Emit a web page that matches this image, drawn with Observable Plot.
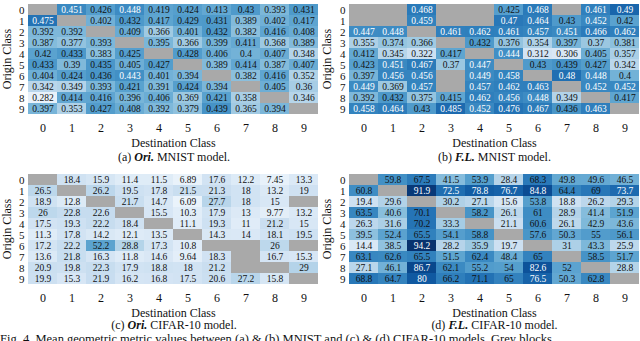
<!DOCTYPE html>
<html>
<head>
<meta charset="utf-8">
<script src="https://cdn.jsdelivr.net/npm/d3@7"></script>
<script src="https://cdn.jsdelivr.net/npm/@observablehq/plot@0.6"></script>
<style>
  html, body { margin: 0; padding: 0; background: #fff; }
  #root { position: relative; width: 640px; height: 341px; overflow: hidden; background: #fff; font-family: "Liberation Serif", "DejaVu Serif", serif; color: #111; }
  .panel { position: absolute; }
  .panel g[aria-label="y-axis tick label"] text { font-size: 11px; }
  .cap { position: absolute; width: 320px; text-align: center; font-size: 12px; line-height: 13px; }
  .fig { position: absolute; left: 0; top: 333px; white-space: nowrap; font-size: 12.5px; line-height: 13px; }
</style>
</head>
<body>
<div id="root"></div>
<script>
const classes = [0, 1, 2, 3, 4, 5, 6, 7, 8, 9];

// rows = origin class, columns = destination class; null = grey block
const oriMnist = [
  [null, 0.451, 0.426, 0.448, 0.419, 0.424, 0.413, 0.43, 0.393, 0.431],
  [0.475, null, 0.402, 0.432, 0.417, 0.429, 0.431, 0.389, 0.402, 0.417],
  [0.392, 0.392, null, 0.409, 0.366, 0.401, 0.432, 0.382, 0.416, 0.408],
  [0.387, 0.377, 0.393, null, 0.395, 0.366, 0.399, 0.411, 0.368, 0.389],
  [0.42, 0.433, 0.383, 0.425, null, 0.428, 0.406, 0.4, 0.407, 0.348],
  [0.433, 0.39, 0.435, 0.405, 0.427, null, 0.389, 0.414, 0.387, 0.407],
  [0.404, 0.424, 0.436, 0.443, 0.401, 0.394, null, 0.382, 0.416, 0.352],
  [0.342, 0.349, 0.393, 0.421, 0.391, 0.424, 0.394, null, 0.405, 0.36],
  [0.282, 0.414, 0.416, 0.396, 0.406, 0.369, 0.421, 0.358, null, 0.346],
  [0.397, 0.353, 0.427, 0.408, 0.392, 0.379, 0.439, 0.365, 0.394, null]
];

const flMnist = [
  [null, null, 0.468, null, null, 0.425, 0.468, null, 0.461, 0.49],
  [null, null, 0.459, null, null, 0.47, 0.464, 0.43, 0.452, 0.42],
  [0.447, 0.448, null, 0.461, 0.462, 0.461, 0.457, 0.451, 0.466, 0.462],
  [0.355, 0.374, 0.366, null, 0.432, 0.376, 0.354, 0.397, 0.37, 0.381],
  [0.412, 0.345, 0.322, 0.417, null, 0.444, 0.312, 0.306, 0.405, 0.357],
  [0.423, 0.451, 0.467, 0.37, 0.447, null, 0.43, 0.439, 0.427, 0.342],
  [0.397, 0.456, 0.456, null, 0.449, 0.458, null, 0.48, 0.448, 0.4],
  [0.449, 0.369, 0.457, null, 0.457, 0.462, 0.463, null, 0.452, 0.452],
  [0.392, 0.432, 0.375, 0.415, 0.462, 0.456, 0.448, 0.349, null, 0.417],
  [0.458, 0.464, 0.43, 0.485, 0.452, 0.476, 0.467, 0.436, 0.463, null]
];

const oriCifar = [
  [null, 18.4, 15.9, 11.4, 11.5, 6.89, 17.6, 12.2, 7.45, 13.3],
  [26.5, null, 26.2, 19.5, 17.8, 21.5, 21.3, 18, 13.2, 19],
  [18.9, 12.8, null, 21.7, 14.7, 6.09, 27.7, 18, 15, null],
  [26, 22.8, 22.6, null, 15.5, 10.3, 17.9, 13, 9.77, 13.2],
  [17.5, 19.3, 22.2, 18.4, null, 11.1, 19.3, 11, 21.2, 15],
  [11.3, 17.8, 14.2, 12.1, 13.5, null, 14.3, 14, 18.1, 19.5],
  [17.2, 22.2, 52.2, 28.8, 17.3, 10.8, null, null, 26, null],
  [13.6, 21.8, 16.3, 11.8, 14.6, 9.64, 18.3, null, 16.7, 15.3],
  [20.9, 19.8, 22.3, 17.9, 18.8, 18, 21.2, null, null, 29],
  [19.9, 15.3, 21.9, 16.2, 16.8, 17.5, 20.6, 27.2, 15.8, null]
];

const flCifar = [
  [null, 59.8, 67.5, 41.5, 53.9, 28.4, 68.3, 49.8, 49.6, 46.5],
  [60.8, null, 91.9, 72.5, 78.8, 76.7, 84.8, 64.4, 69, 73.7],
  [19.4, 29.6, null, 30.2, 27.1, 15.6, 53.8, 18.8, 26.2, 29.3],
  [63.5, 40.6, 70.1, null, 58.2, 26.1, 61, 28.9, 41.4, 51.9],
  [26.3, 31.6, 70.2, 33.3, null, 21.1, 60.6, 26.1, 42.9, 43.6],
  [39.5, 52.4, 65.5, 54.1, 58.8, null, 57.6, 50.3, 55, 56.1],
  [14.4, 38.5, 94.2, 28.2, 35.9, 19.7, null, 31, 43.3, 25.9],
  [63.1, 62.6, 65.5, 51.5, 62.4, 48.4, 65, null, 58.5, 51.7],
  [27.1, 46.1, 86.7, 62.1, 55.2, 54, 82.6, 52, null, 28.8],
  [68.8, 64.7, 80, 66.2, 71.1, 65, 76.5, 50.3, 62.8, null]
];

const captions = [
  ["(a)", "Ori.", "MNIST model."],
  ["(b)", "F.L.", "MNIST model."],
  ["(c)", "Ori.", "CIFAR-10 model."],
  ["(d)", "F.L.", "CIFAR-10 model."]
];
const figCaption = "Fig. 4. Mean geometric metric values between (a) & (b) MNIST and (c) & (d) CIFAR-10 models. Grey blocks";

function toCells(matrix) {
  const out = [];
  matrix.forEach((row, r) => row.forEach((v, c) => out.push({r: classes[r], c: classes[c], v})));
  return out;
}

function heat(matrix, domain, threshold, ml, mr) {
  const cells = toCells(matrix);
  const valid = cells.filter(d => d.v != null);
  const grey = cells.filter(d => d.v == null);
  return Plot.plot({
    width: 320,
    height: 150,
    marginLeft: ml,
    marginRight: mr,
    marginTop: 0,
    marginBottom: 33,
    style: {fontFamily: "'Liberation Serif', serif", fontSize: "12px", color: "#111", background: "transparent"},
    x: {domain: classes, padding: 0, tickSize: 0, tickPadding: 6, label: "Destination Class", labelAnchor: "center", labelArrow: "none", labelOffset: 29},
    y: {domain: classes, padding: 0, tickSize: 0, tickPadding: 4, label: "Origin Class", labelAnchor: "center", labelArrow: "none", labelOffset: ml - 2},
    color: {type: "linear", scheme: "blues", domain},
    marks: [
      Plot.cell(grey, {x: "c", y: "r", fill: "#a9a9a9", inset: 0}),
      Plot.cell(valid, {x: "c", y: "r", fill: "v", inset: 0}),
      Plot.text(valid, {x: "c", y: "r", text: d => String(d.v), fontSize: 9.5,
        fill: d => d.v > threshold ? "#ffffff" : "#111111"})
    ]
  });
}

const root = document.getElementById("root");
const specs = [
  {m: oriMnist, domain: [0.26, 0.55], thr: 0.44, left: 0, top: 0, capTop: 151, ml: 28, mr: 2},
  {m: flMnist, domain: [0.26, 0.55], thr: 0.44, left: 320, top: 0, capTop: 151, ml: 29, mr: 1},
  {m: oriCifar, domain: [0, 95], thr: 60, left: 0, top: 170, capTop: 319, ml: 28, mr: 2},
  {m: flCifar, domain: [0, 95], thr: 72, left: 320, top: 170, capTop: 319, ml: 29, mr: 1}
];
specs.forEach((s, i) => {
  const div = document.createElement("div");
  div.className = "panel";
  div.style.left = s.left + "px";
  div.style.top = s.top + "px";
  div.appendChild(heat(s.m, s.domain, s.thr, s.ml, s.mr));
  root.appendChild(div);
  const cap = document.createElement("div");
  cap.className = "cap";
  cap.style.left = (s.left + (s.ml - 28) / 2 + 14) + "px";
  cap.style.top = s.capTop + "px";
  const [a, b, c] = captions[i];
  cap.innerHTML = a + " <b><i>" + b + "</i></b> " + c;
  root.appendChild(cap);
});
const fig = document.createElement("div");
fig.className = "fig";
fig.textContent = figCaption;
root.appendChild(fig);
</script>
</body>
</html>
